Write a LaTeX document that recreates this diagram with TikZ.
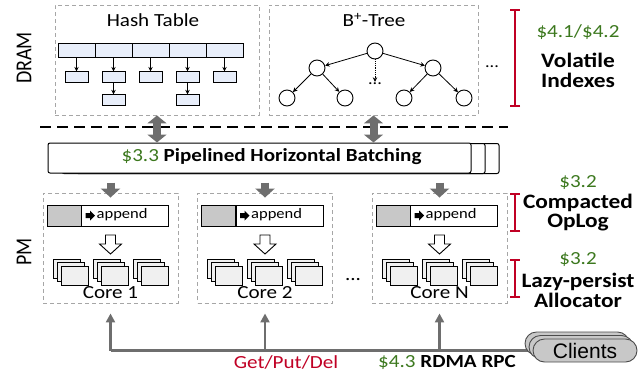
\documentclass[tikz,border=0pt]{standalone}
\usepackage{fontspec}
\setmainfont{Carlito}[FakeStretch=1.14]
\newfontfamily\plainfont{Carlito}
\newfontfamily\clientsfont{Liberation Sans}
\usetikzlibrary{arrows.meta,positioning}

\definecolor{secgreen}{RGB}{60,120,30}
\definecolor{markred}{RGB}{192,0,36}
\definecolor{pipegray}{RGB}{110,110,110}
\definecolor{framegray}{RGB}{166,166,166}
\definecolor{bucketblue}{RGB}{232,238,250}
\definecolor{pagefill}{RGB}{240,240,240}
\definecolor{logfill}{RGB}{200,200,200}

\newcommand{\sidelabel}[1]{\scalebox{1}[1.14]{\plainfont\fontsize{20}{22}\selectfont #1}}

\tikzset{
  region/.style={draw=framegray, dash pattern=on 4pt off 3pt, line width=0.9pt},
  lbl/.style={font=\fontsize{18.5}{20}\selectfont},
  tag/.style={font=\bfseries\fontsize{20.5}{19.5}\selectfont, align=center, inner sep=1pt},
  bartag/.style={font=\bfseries\fontsize{18.5}{20}\selectfont},
  sec/.style={font=\fontsize{18.5}{20}\selectfont, text=secgreen, inner sep=1pt},
  bucket/.style={draw, fill=bucketblue, line width=0.9pt, minimum width=37pt, minimum height=14pt, inner sep=0pt},
  entry/.style={draw, fill=bucketblue, line width=0.9pt, minimum width=23pt, minimum height=11pt, inner sep=0pt},
  tnode/.style={circle, draw, fill=white, line width=0.9pt, minimum size=16pt, inner sep=0pt},
  tinyarrow/.style={line width=0.8pt, -{Stealth[length=4.5pt,width=4.5pt]}},
  fatarrow/.style={pipegray, line width=8pt, -{Triangle[length=9pt,width=19pt]}},
  fatboth/.style={pipegray, line width=8pt, {Triangle[length=8pt,width=19pt]}-{Triangle[length=8pt,width=19pt]}},
  busline/.style={pipegray, line width=2.5pt},
  busarrow/.style={busline, -{Triangle[length=9pt,width=9pt]}},
  barbox/.style={draw, fill=white, line width=1pt, rounded corners=2pt, minimum width=423pt, minimum height=30pt},
  brace/.style={markred, line width=1.8pt, {Bar[width=10pt]}-{Bar[width=10pt]}},
  logbox/.style={draw, line width=0.9pt, minimum height=21pt, inner sep=0pt},
  page/.style={draw, fill=pagefill, line width=0.9pt, minimum width=27pt, minimum height=19pt, inner sep=0pt},
  pill/.style={draw=black!70, fill=logfill, line width=0.9pt, rounded corners=11.5pt, minimum width=104pt, minimum height=23pt}
}

\begin{document}
\begin{tikzpicture}[x=1pt,y=-1pt]
\useasboundingbox (0,0) rectangle (644,375);

% DRAM side
\node[rotate=90] (dram) at (24,58) {\sidelabel{DRAM}};
\node[region, minimum width=204pt, minimum height=110pt] (hash) at (157,60) {};
\node[lbl] (hashtitle) at (153,20) {Hash Table};
\foreach \i in {1,...,5} {
  \node[bucket] (b\i) at (39.5+37*\i,50) {};
  \node[entry, below=14pt of b\i] (e\i) {};
  \draw[tinyarrow] (b\i) -- (e\i);
}
\foreach \i in {2,4} {
  \node[entry, below=11pt of e\i] (f\i) {};
  \draw[tinyarrow] (e\i) -- (f\i);
}

\node[region, minimum width=209pt, minimum height=110pt] (tree) at (373.5,60) {};
\node[lbl] (treetitle) at (374,20) {B\textsuperscript{+}-Tree};
\node[tnode] (root) at (375,51) {};
\node[tnode] (n1) at (317,68) {};
\node[tnode] (n2) at (433,68) {};
\node[tnode] (l1) at (287,98) {};
\node[tnode] (l2) at (345,98) {};
\node[tnode] (l3) at (404,98) {};
\node[tnode] (l4) at (464,98) {};
\node[font=\fontsize{16}{18}\selectfont, inner sep=1pt] (tdots) at (375,84) {...};
\draw[tinyarrow] (root) -- (n1);
\draw[tinyarrow] (root) -- (n2);
\draw[tinyarrow, densely dotted] (root) -- (tdots.north);
\draw[tinyarrow] (n1) -- (l1);
\draw[tinyarrow] (n1) -- (l2);
\draw[tinyarrow] (n2) -- (l3);
\draw[tinyarrow] (n2) -- (l4);
\node[font=\fontsize{16}{18}\selectfont] (moredots) at (492,67) {...};

% right hand labels
\draw[brace] (515,9) -- (515,107);
\node[sec] (s41) at (578,32) {\$4.1/\$4.2};
\node[tag] (vol) at (578,70.5) {Volatile\\Indexes};

\draw[line width=2.6pt, dash pattern=on 11pt off 6pt] (40,127) -- (508,127);

% batching
\foreach \s in {28,14}
  \node[barbox] at (259.5+\s,158.5) {};
\node[barbox] (batch) at (259.5,158) {};
\node[bartag] (batchtxt) at (271.5,157) {{\color{secgreen}\mdseries\$3.3} Pipelined Horizontal Batching};
\draw[fatboth] (hash.south) -- (hash.south |- batch.north);
\draw[fatboth] (tree.south) -- (tree.south |- batch.north);

% PM side
\node[rotate=90] (pm) at (24,252) {\sidelabel{PM}};
\foreach \i/\cx/\lab in {1/110.5/1, 2/265/2, 3/439.5/N} {
  \node[region, minimum width=135pt, minimum height=110pt] (core\i) at (\cx,248) {};
  \node[logbox, fill=logfill, minimum width=34pt] (head\i) at (\cx-46.5,215.5) {};
  \node[logbox, fill=white, minimum width=87pt, right=0pt of head\i] (log\i) {};
  \fill[shift={(\cx-25,215.5)}] (0,-2.5) -- (4.5,-2.5) -- (4.5,-5) -- (9.5,0) -- (4.5,5) -- (4.5,2.5) -- (0,2.5) -- cycle;
  \node[font=\fontsize{14.5}{16}\selectfont, anchor=west, inner sep=0pt] (app\i) at (\cx-14,215) {append};
  \draw[fill=white, line width=0.9pt, shift={(\cx,235)}]
    (-5,0) -- (5,0) -- (5,9) -- (11,9) -- (0,19) -- (-11,9) -- (-5,9) -- cycle;
  \foreach \g in {1,2,3}
    \foreach \s in {1,2,3}
      \node[page] (pg\i\g\s) at (\cx+40*\g-80+4*\s-8, 272+3.5*\s-7) {};
  \node[lbl] (name\i) at (\cx,293) {Core \lab};
  \draw[fatarrow] (core\i.north |- batch.south) ++(0,9) -- ([yshift=-5pt]core\i.north);
}
\node[lbl] (cdots) at (353,280) {...};

\draw[brace] (515,193) -- (515,232);
\node[sec] (s32a) at (578,183) {\$3.2};
\node[tag] (comp) at (578,212.5) {Compacted\\OpLog};
\draw[brace] (515,259) -- (515,298);
\node[sec] (s32b) at (578,260) {\$3.2};
\node[tag] (lazy) at (578,290.5) {Lazy-persist\\Allocator};

% requests from clients
\coordinate (busend) at (530,350.5);
\draw[busline] (core1.south |- busend) -- (busend);
\foreach \i in {1,2,3}
  \draw[busarrow] (core\i.south |- busend) -- ([yshift=-10pt]core\i.south);
\foreach \s in {2,1}
  \node[pill] (cl\s) at (585-4*\s,350.5-3.5*\s) {};
\node[pill, font=\clientsfont\fontsize{21}{23}\selectfont] (clients) at (585,350.5) {Clients};
\node[lbl, text=markred] (ops) at (286,362) {Get/Put/Del};
\node[bartag] (rpc) at (447,362) {{\color{secgreen}\mdseries\$4.3} RDMA RPC};
\end{tikzpicture}
\end{document}
